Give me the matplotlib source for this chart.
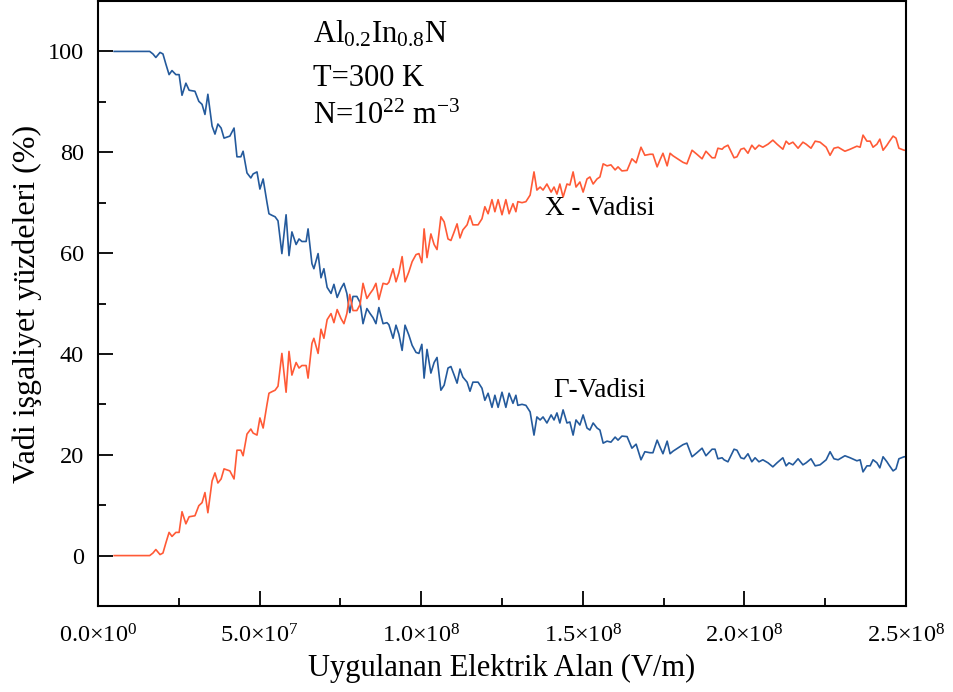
import numpy as np
import matplotlib
matplotlib.use("Agg")
import matplotlib.pyplot as plt
from matplotlib.ticker import MultipleLocator, FuncFormatter

plt.rcParams['font.family'] = ['Liberation Serif', 'DejaVu Serif']
plt.rcParams['mathtext.fontset'] = 'custom'
plt.rcParams['mathtext.rm'] = 'Liberation Serif'
plt.rcParams['mathtext.it'] = 'Liberation Serif:italic'
plt.rcParams['mathtext.bf'] = 'Liberation Serif:bold'

# Applied field in MV/m
field_MVm = [5, 6, 7, 8, 9, 10, 11, 12, 13, 14, 15, 16,
    17.0, 17.9, 19.2, 20.1, 21.0, 22.0, 22.9, 24.1, 25.1, 26.0, 27.2, 28.2, 29.1, 30.0,
    31.2, 32.2, 33.1, 34.0, 35.3, 36.2, 37.1, 38.1, 39.0, 39.9, 40.8, 42.1, 43.0, 44.2,
    44.9, 46.1, 47.3, 48.0, 49.2, 50.1, 51.1, 52.3, 52.9, 53.8, 54.8, 55.7, 56.9, 58.2,
    59.1, 60.0, 61.3, 62.2, 63.1, 64.4, 65.0, 66.2, 66.8, 68.1, 69.0, 69.9, 70.9, 72.1,
    73.0, 74.0, 75.2, 76.1, 77.0, 77.9, 78.9, 80.1, 81.1, 82.0, 83.2, 84.2, 85.1, 86.0,
    86.9, 88.2, 89.4, 90.0, 91.3, 92.2, 93.1, 94.1, 95.0, 96.2, 97.2, 98.4, 99.3, 100.2,
    100.9, 101.8, 103.0, 104.0, 104.9, 106.1, 107.1, 108.3, 109.2, 110.2, 111.1, 112.0,
    112.9, 114.2, 115.1, 116.0, 117.6, 118.8, 119.7, 120.7, 121.9, 122.8, 123.8, 125.0,
    126.2, 127.2, 128.4, 129.3, 129.9, 131.2, 132.4, 133.7, 134.9, 135.8, 136.8, 137.7,
    138.9, 140.2, 141.1, 142.0, 142.9, 143.9, 145.1, 146.0, 147.0, 147.9, 149.1, 150.1,
    151.3, 152.2, 153.2, 154.4, 155.3, 156.3, 157.5, 158.7, 160.0, 160.9, 162.1, 163.7,
    165.2, 166.5, 168.0, 169.2, 170.8, 171.7, 173.0, 173.9, 174.8, 176.1, 177.0, 177.9,
    179.1, 180.1, 181.0, 182.2, 183.8, 185.3, 186.9, 188.1, 190.0, 190.9, 191.8, 193.1,
    193.7, 194.9, 196.8, 197.7, 198.9, 199.9, 201.1, 202.3, 203.3, 204.5, 205.7, 207.3,
    208.8, 210.1, 211.9, 212.9, 213.8, 215.0, 216.6, 218.1, 219.1, 220.6, 221.9, 223.4,
    225.3, 226.5, 227.7, 229.0, 231.1, 232.7, 234.8, 235.8, 236.7, 237.9, 238.9, 239.8,
    241.0, 241.9, 242.9, 244.1, 244.7, 246.0, 246.9, 247.8, 249.4, 250.0]

# Gamma valley occupation (%)
gamma_valley = [100, 100, 100, 100, 100, 100, 100, 100, 100, 100, 100, 100,
    99.5, 98.8, 99.8, 99.5, 97.5, 95.4, 96.2, 95.4, 95.4, 91.3, 93.7, 92.3, 92.2, 92.1,
    90.1, 89.5, 87.5, 91.5, 85.2, 83.6, 85.6, 84.8, 82.8, 83.0, 83.2, 84.8, 79.1, 79.1,
    80.2, 75.9, 74.9, 75.7, 76.1, 72.7, 74.7, 70.0, 67.8, 67.5, 67.2, 66.4, 59.9, 67.6,
    59.5, 64.2, 61.7, 62.8, 62.3, 62.3, 64.8, 57.9, 56.9, 59.9, 55.1, 56.9, 53.2, 52.0,
    53.8, 51.2, 53.0, 54.0, 52.0, 48.2, 51.4, 51.4, 50.2, 46.0, 49.0, 48.0, 47.2, 46.0,
    49.2, 46.0, 46.2, 45.8, 43.1, 45.7, 43.9, 40.7, 45.7, 43.7, 41.7, 40.3, 40.1, 41.9,
    35.2, 40.9, 36.2, 38.3, 39.3, 32.8, 33.8, 37.2, 37.5, 35.8, 34.2, 37.0,
    35.4, 34.4, 32.6, 34.4, 34.4, 33.2, 30.8, 32.2, 29.4, 31.8, 29.4, 32.4,
    29.4, 32.2, 30.2, 31.8, 29.8, 30.0, 29.8, 28.5, 23.9, 27.5, 26.9, 27.5,
    26.3, 27.9, 26.9, 28.3, 26.3, 28.9, 26.3, 26.5, 23.9, 26.9, 25.9, 27.9,
    25.3, 24.9, 26.3, 25.3, 24.9, 22.3, 22.7, 22.5, 23.5, 22.9, 23.7, 23.6,
    21.3, 22.1, 19.0, 20.6, 20.4, 20.4, 22.9, 21.5, 20.2, 22.7, 20.2, 20.7,
    21.2, 21.6, 22.0, 22.3, 19.6, 20.4, 21.3, 19.8, 21.1, 21.1, 19.2, 19.4,
    19.0, 18.6, 21.1, 20.9, 19.4, 19.2, 20.2, 18.6, 19.4, 18.6, 19.0, 18.4,
    17.6, 18.4, 19.4, 17.8, 18.4, 18.0, 19.2, 18.0, 18.4, 19.2, 17.8, 18.0,
    19.0, 20.6, 19.2, 19.0, 19.8, 19.4, 18.8, 19.0, 16.6, 17.8, 17.8, 19.0,
    18.4, 17.4, 19.6, 18.6, 18.0, 16.8, 17.2, 19.2, 19.6, 19.6]

# X valley occupation (%)
x_valley = [0, 0, 0, 0, 0, 0, 0, 0, 0, 0, 0, 0,
    0.5, 1.2, 0.2, 0.5, 2.5, 4.6, 3.8, 4.6, 4.6, 8.7, 6.3, 7.7, 7.8, 7.9,
    9.9, 10.5, 12.5, 8.5, 14.8, 16.4, 14.4, 15.2, 17.2, 17.0, 16.8, 15.2, 20.9, 20.9,
    19.8, 24.1, 25.1, 24.3, 23.9, 27.3, 25.3, 30.0, 32.2, 32.5, 32.8, 33.6, 40.1, 32.4,
    40.5, 35.8, 38.3, 37.2, 37.7, 37.7, 35.2, 42.1, 43.1, 40.1, 44.9, 43.1, 46.8, 48.0,
    46.2, 48.8, 47.0, 46.0, 48.0, 51.8, 48.6, 48.6, 49.8, 54.0, 51.0, 52.0, 52.8, 54.0,
    50.8, 54.0, 53.8, 54.2, 56.9, 54.3, 56.1, 59.3, 54.3, 56.3, 58.3, 59.7, 59.9, 58.1,
    64.8, 59.1, 63.8, 61.7, 60.7, 67.2, 66.2, 62.8, 62.5, 64.2, 65.8, 63.0,
    64.6, 65.6, 67.4, 65.6, 65.6, 66.8, 69.2, 67.8, 70.6, 68.2, 70.6, 67.6,
    70.6, 67.8, 69.8, 68.2, 70.2, 70.0, 70.2, 71.5, 76.1, 72.5, 73.1, 72.5,
    73.7, 72.1, 73.1, 71.7, 73.7, 71.1, 73.7, 73.5, 76.1, 73.1, 74.1, 72.1,
    74.7, 75.1, 73.7, 74.7, 75.1, 77.7, 77.3, 77.5, 76.5, 77.1, 76.3, 76.4,
    78.7, 77.9, 81.0, 79.4, 79.6, 79.6, 77.1, 78.5, 79.8, 77.3, 79.8, 79.3,
    78.8, 78.4, 78.0, 77.7, 80.4, 79.6, 78.7, 80.2, 78.9, 78.9, 80.8, 80.6,
    81.0, 81.4, 78.9, 79.1, 80.6, 80.8, 79.8, 81.4, 80.6, 81.4, 81.0, 81.6,
    82.4, 81.6, 80.6, 82.2, 81.6, 82.0, 80.8, 82.0, 81.6, 80.8, 82.2, 82.0,
    81.0, 79.4, 80.8, 81.0, 80.2, 80.6, 81.2, 81.0, 83.4, 82.2, 82.2, 81.0,
    81.6, 82.6, 80.4, 81.4, 82.0, 83.2, 82.8, 80.8, 80.4, 80.4]

n = min(len(field_MVm), len(gamma_valley), len(x_valley))
field = np.array(field_MVm[:n]) * 1e6

fig = plt.figure(figsize=(9.54, 6.92), dpi=100)
# axes spans pixel rows 1..606 and columns 98..906
ax = fig.add_axes([0.1027, 86 / 692, 0.847, 605 / 692])

ax.plot(field, np.array(gamma_valley[:n]), color='#245a9c', lw=1.2)
ax.plot(field, np.array(x_valley[:n]), color='#ff5a36', lw=1.2)

ax.set_xlim(0, 2.5e8)
ax.set_ylim(-10, 110)

ax.set_xticks([0, 5e7, 1e8, 1.5e8, 2e8, 2.5e8])
ax.set_xticks([2.5e7, 7.5e7, 1.25e8, 1.75e8, 2.25e8], minor=True)
ax.yaxis.set_major_locator(MultipleLocator(20))
ax.yaxis.set_minor_locator(MultipleLocator(10))

def xfmt(v, pos):
    if v <= 0:
        return r'0.0$\times$10$^{0}$'
    e = int(np.floor(np.log10(v) + 1e-9))
    m = v / 10**e
    return r'%.1f$\times$10$^{%d}$' % (m, e)

ax.xaxis.set_major_formatter(FuncFormatter(xfmt))

ax.tick_params(which='both', direction='in', top=False, right=False, width=1.3)
ax.tick_params(which='major', length=11, labelsize=17.5)
ax.tick_params(axis='x', which='major', pad=13)
ax.tick_params(axis='y', which='major', pad=10)
ax.tick_params(which='minor', length=6)
for s in ['left', 'bottom', 'right', 'top']:
    ax.spines[s].set_linewidth(1.5)

ax.set_xlabel('Uygulanan Elektrik Alan (V/m)', fontsize=22, labelpad=5)
ax.set_ylabel('Vadi işgaliyet yüzdeleri (%)', fontsize=23, labelpad=4)

ax.text(0.2655, 0.9306, r'Al$_{0.2}$In$_{0.8}$N', transform=ax.transAxes, fontsize=22, va='baseline', ha='left')
ax.text(0.2655, 0.8595, 'T=300 K', transform=ax.transAxes, fontsize=22, va='baseline', ha='left')
ax.text(0.2655, 0.7967, r'N=10$^{22}$ m$^{-3}$', transform=ax.transAxes, fontsize=22, va='baseline', ha='left')

ax.text(1.553e8, 68.8, 'X - Vadisi', fontsize=19.5, ha='center', va='center')
ax.text(1.553e8, 32.8, 'Γ-Vadisi', fontsize=19.5, ha='center', va='center')

fig.savefig('out.png', dpi=100)
